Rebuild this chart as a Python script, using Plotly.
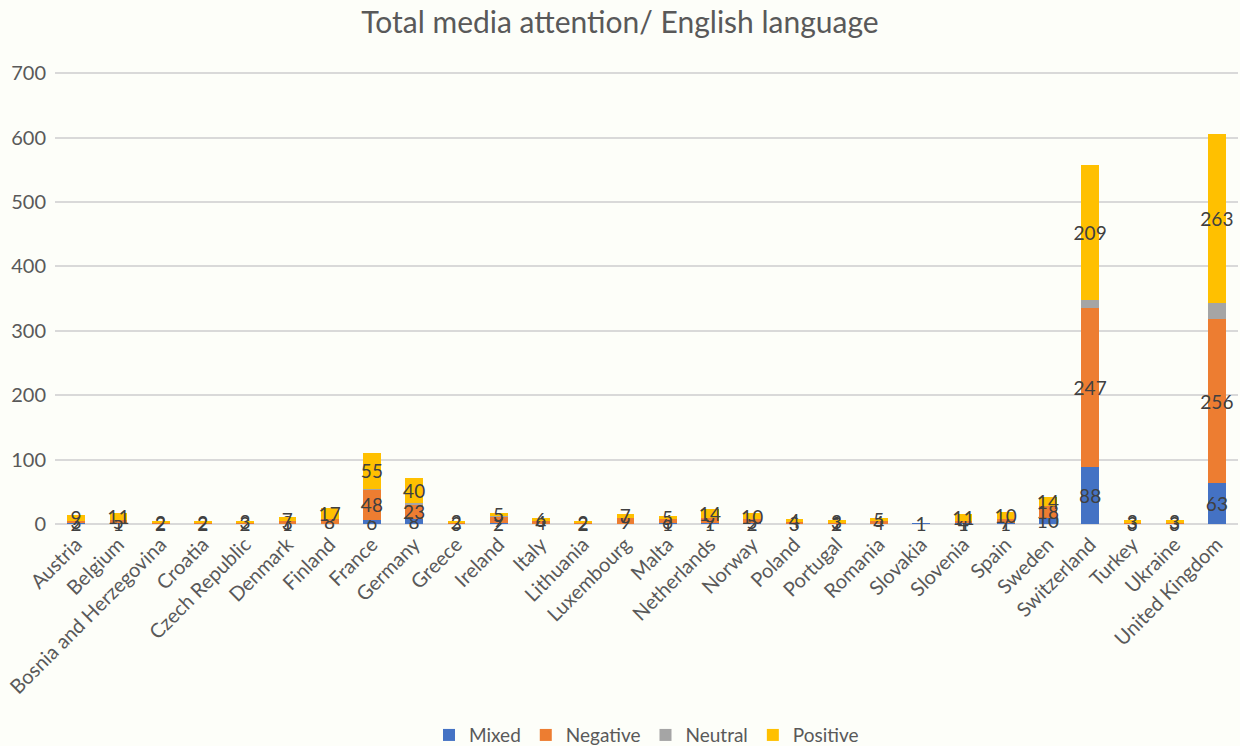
import plotly.graph_objects as go

countries = ["Austria", "Belgium", "Bosnia and Herzegovina", "Croatia", "Czech Republic",
             "Denmark", "Finland", "France", "Germany", "Greece", "Ireland", "Italy",
             "Lithuania", "Luxembourg", "Malta", "Netherlands", "Norway", "Poland",
             "Portugal", "Romania", "Slovakia", "Slovenia", "Spain", "Sweden",
             "Switzerland", "Turkey", "Ukraine", "United Kingdom"]

mixed    = [2, 1, 0, 0, 0, 1, 0, 6, 8, 0, 2, 0, 0, 0, 1, 1, 2, 0, 1, 0, 1, 1, 1, 10, 88, 0, 0, 63]
negative = [3, 5, 2, 2, 2, 3, 8, 48, 23, 3, 9, 4, 2, 9, 6, 9, 5, 3, 2, 4, 0, 4, 7, 18, 247, 3, 3, 256]
neutral  = [0, 0, 0, 0, 0, 0, 0, 1, 1, 0, 1, 0, 0, 0, 0, 0, 0, 0, 0, 0, 0, 0, 0, 0, 13, 0, 0, 24]
positive = [9, 11, 2, 2, 3, 7, 17, 55, 40, 2, 5, 6, 2, 7, 5, 14, 10, 4, 3, 5, 0, 11, 10, 14, 209, 3, 3, 263]

y_ticks = [0, 100, 200, 300, 400, 500, 600, 700]

series = [
    ("Mixed", mixed, "#4472C4", True),
    ("Negative", negative, "#ED7D31", True),
    ("Neutral", neutral, "#A5A5A5", False),
    ("Positive", positive, "#FFC000", True),
]

FONT = "Lato, 'Open Sans', sans-serif"
TXT = "#595959"

fig = go.Figure()
for name, vals, color, show_lbl in series:
    labels = [str(v) if (v and show_lbl) else "" for v in vals]
    fig.add_trace(go.Bar(
        name=name, x=countries, y=vals, marker=dict(color=color, line=dict(width=0)),
        text=labels, texttemplate="%{text}", textposition="inside", textangle=0,
        insidetextanchor="middle", constraintext="none", cliponaxis=False,
        textfont=dict(family=FONT, size=19, color="#404040"),
        hoverinfo="x+y+name",
    ))

fig.update_layout(
    barmode="stack",
    bargap=0.58,
    width=1240, height=746,
    paper_bgcolor="#FDFEF9", plot_bgcolor="#FDFEF9",
    margin=dict(l=55, r=2, t=72, b=222, autoexpand=False),
    title=dict(text="Total media attention/ English language", x=0.5, xanchor="center",
               y=0.97, yanchor="middle", yref="container",
               font=dict(family=FONT, size=30, color=TXT)),
    uniformtext=dict(minsize=19, mode="show"),
    font=dict(family=FONT, color=TXT),
    legend=dict(orientation="h", x=0.5, xanchor="center", y=-0.467, yanchor="middle",
                yref="paper", font=dict(family=FONT, size=19, color=TXT),
                traceorder="normal"),
    showlegend=True,
)
fig.update_yaxes(range=[0, 702], tickvals=y_ticks, showgrid=True, gridcolor="#D9D9D9",
                 gridwidth=1.5, zeroline=True, zerolinecolor="#D9D9D9", zerolinewidth=1.5,
                 tickfont=dict(family=FONT, size=20, color=TXT), ticks="", ticklabelstandoff=8)
fig.update_xaxes(tickangle=-45, tickfont=dict(family=FONT, size=20, color=TXT),
                 showline=False, ticks="", ticklabelstandoff=4)

fig.write_html("out.html", config={"displayModeBar": False},
               post_script="document.body.style.margin='0';document.body.style.padding='0';")
